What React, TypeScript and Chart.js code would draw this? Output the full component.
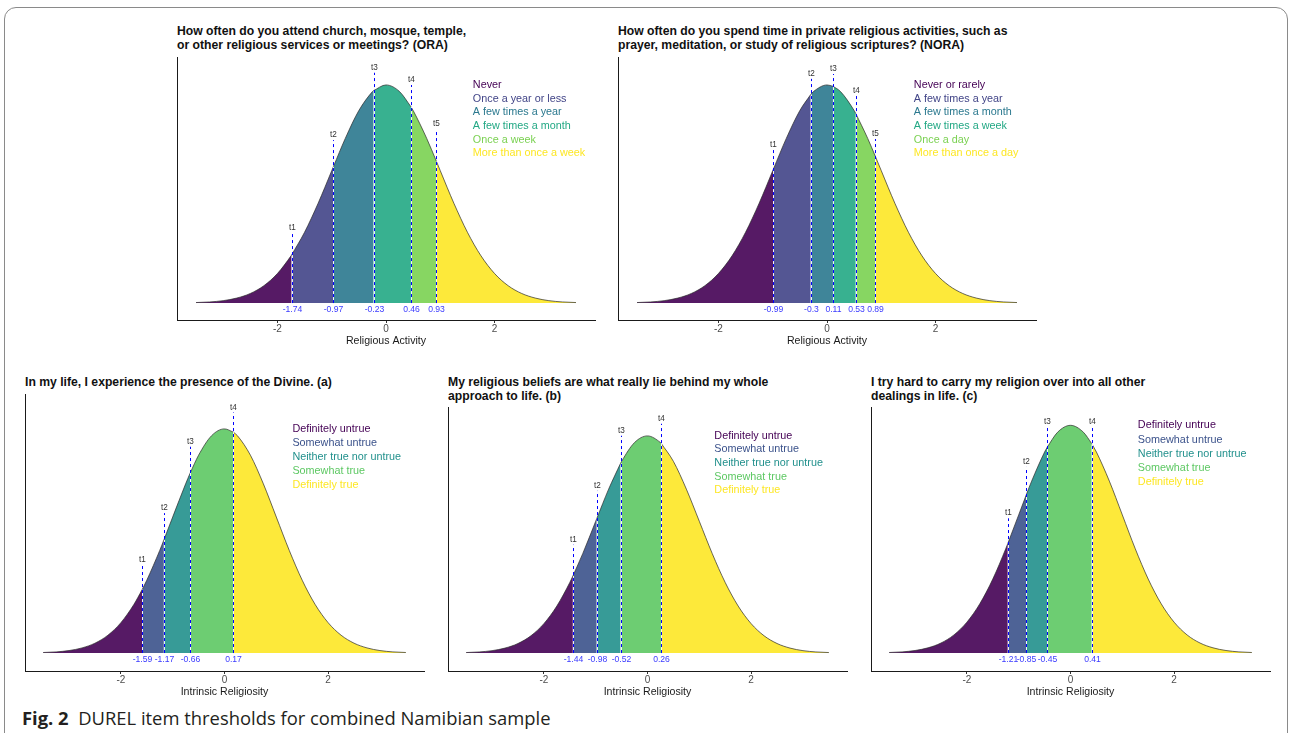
import React, { useEffect, useRef } from "react";
import { Chart, registerables } from "chart.js";

Chart.register(...registerables);

// ---------- data ----------
const curveX = [-3.5, -3.25, -3, -2.75, -2.5, -2.25, -2, -1.75, -1.5, -1.25, -1, -0.75, -0.5, -0.25, 0,
  0.25, 0.5, 0.75, 1, 1.25, 1.5, 1.75, 2, 2.25, 2.5, 2.75, 3, 3.25, 3.5];
const curveY = [0.0009, 0.002, 0.0044, 0.0091, 0.0175, 0.0317, 0.054, 0.0863, 0.1295, 0.1826, 0.242, 0.3011, 0.3521, 0.3867, 0.3989,
  0.3867, 0.3521, 0.3011, 0.242, 0.1826, 0.1295, 0.0863, 0.054, 0.0317, 0.0175, 0.0091, 0.0044, 0.002, 0.0009];

const xTicks = [-2, 0, 2];

const oraThresholds = [-1.74, -0.97, -0.23, 0.46, 0.93];
const oraDensity = [0.0878, 0.2492, 0.3885, 0.3589, 0.2589];
const oraMarkerTop = [0.128, 0.298, 0.421, 0.399, 0.318];
const oraCategories = ["Never", "Once a year or less", "A few times a year", "A few times a month", "Once a week", "More than once a week"];

const noraThresholds = [-0.99, -0.3, 0.11, 0.53, 0.89];
const noraDensity = [0.2444, 0.3814, 0.3965, 0.3467, 0.2685];
const noraMarkerTop = [0.28, 0.41, 0.419, 0.379, 0.3];
const noraCategories = ["Never or rarely", "A few times a year", "A few times a month", "A few times a week", "Once a day", "More than once a day"];

const irCategories = ["Definitely untrue", "Somewhat untrue", "Neither true nor untrue", "Somewhat true", "Definitely true"];

const irAThresholds = [-1.59, -1.17, -0.66, 0.17];
const irADensity = [0.1127, 0.2012, 0.3209, 0.3932];
const irAMarkerTop = [0.157, 0.249, 0.367, 0.428];

const irBThresholds = [-1.44, -0.98, -0.52, 0.26];
const irBDensity = [0.1415, 0.2468, 0.3485, 0.3857];
const irBMarkerTop = [0.199, 0.298, 0.399, 0.421];

const irCThresholds = [-1.21, -0.85, -0.45, 0.41];
const irCDensity = [0.1919, 0.278, 0.3605, 0.3668];
const irCMarkerTop = [0.236, 0.326, 0.396, 0.396];

const viridis6 = ["#440154", "#414487", "#2A788E", "#22A884", "#7AD151", "#FDE725"];
const viridis5 = ["#440154", "#3B528B", "#21908C", "#5DC863", "#FDE725"];

// ---------- layout / style ----------
const FONT = '"Liberation Sans", Arial, Helvetica, sans-serif';

type Panel = {
  title: string[];
  xLabel: string;
  thresholds: number[];
  density: number[];
  markerTop: number[];
  categories: string[];
  colors: string[];
  legendX: number;
  box: { L: number; T: number; R: number; B: number };
  yMin: number;
  yMax: number;
  titleTop: number;
};

const panels: Panel[] = [
  {
    title: ["How often do you attend church, mosque, temple,", "or other religious services or meetings? (ORA)"],
    xLabel: "Religious Activity",
    thresholds: oraThresholds, density: oraDensity, markerTop: oraMarkerTop,
    categories: oraCategories, colors: viridis6, legendX: 1.6,
    box: { L: 177, T: 57, R: 595, B: 320 }, yMin: -0.031, yMax: 0.45, titleTop: 24,
  },
  {
    title: ["How often do you spend time in private religious activities, such as", "prayer, meditation, or study of religious scriptures? (NORA)"],
    xLabel: "Religious Activity",
    thresholds: noraThresholds, density: noraDensity, markerTop: noraMarkerTop,
    categories: noraCategories, colors: viridis6, legendX: 1.6,
    box: { L: 618, T: 57, R: 1036, B: 320 }, yMin: -0.031, yMax: 0.45, titleTop: 24,
  },
  {
    title: ["In my life, I experience the presence of the Divine. (a)"],
    xLabel: "Intrinsic Religiosity",
    thresholds: irAThresholds, density: irADensity, markerTop: irAMarkerTop,
    categories: irCategories, colors: viridis5, legendX: 1.31,
    box: { L: 25, T: 394, R: 424, B: 671 }, yMin: -0.032, yMax: 0.461, titleTop: 375,
  },
  {
    title: ["My religious beliefs are what really lie behind my whole", "approach to life. (b)"],
    xLabel: "Intrinsic Religiosity",
    thresholds: irBThresholds, density: irBDensity, markerTop: irBMarkerTop,
    categories: irCategories, colors: viridis5, legendX: 1.29,
    box: { L: 448, T: 407, R: 847, B: 671 }, yMin: -0.033, yMax: 0.452, titleTop: 375,
  },
  {
    title: ["I try hard to carry my religion over into all other", "dealings in life. (c)"],
    xLabel: "Intrinsic Religiosity",
    thresholds: irCThresholds, density: irCDensity, markerTop: irCMarkerTop,
    categories: irCategories, colors: viridis5, legendX: 1.3,
    box: { L: 871, T: 407, R: 1270, B: 671 }, yMin: -0.0315, yMax: 0.431, titleTop: 375,
  },
];

function hexA(hex: string, a: number) {
  const n = parseInt(hex.slice(1), 16);
  return `rgba(${(n >> 16) & 255},${(n >> 8) & 255},${n & 255},${a})`;
}

function regionData(thr: number[], dens: number[]) {
  const bx = [curveX[0], ...thr, curveX[curveX.length - 1]];
  const by = [curveY[0], ...dens, curveY[curveY.length - 1]];
  const out: { x: number; y: number }[][] = [];
  for (let k = 0; k < bx.length - 1; k++) {
    const lo = bx[k], hi = bx[k + 1];
    const pts = [{ x: lo, y: by[k] }];
    curveX.forEach((x, i) => {
      if (x > lo + 1e-9 && x < hi - 1e-9) pts.push({ x, y: curveY[i] });
    });
    pts.push({ x: hi, y: by[k + 1] });
    out.push(pts);
  }
  return out;
}

function makeAnnot(p: Panel) {
  return {
    id: "annot",
    afterDatasetsDraw(chart: any) {
      const { ctx, scales } = chart;
      const xs = scales.x, ys = scales.y;
      const y0 = ys.getPixelForValue(0);
      ctx.save();
      p.thresholds.forEach((t, i) => {
        const px = Math.round(xs.getPixelForValue(t)) + 0.5;
        const yd = ys.getPixelForValue(p.density[i]);
        const yt = ys.getPixelForValue(p.markerTop[i]);
        ctx.setLineDash([]);
        ctx.strokeStyle = "rgba(255,255,255,0.9)";
        ctx.lineWidth = 1;
        ctx.beginPath();
        ctx.moveTo(px, y0);
        ctx.lineTo(px, yd);
        ctx.stroke();
        ctx.setLineDash([3, 3]);
        ctx.strokeStyle = "#0000ff";
        ctx.lineWidth = 1;
        ctx.beginPath();
        ctx.moveTo(px, y0);
        ctx.lineTo(px, yt);
        ctx.stroke();
        ctx.setLineDash([]);
        ctx.textAlign = "center";
        ctx.fillStyle = "#333333";
        ctx.font = `8.2px ${FONT}`;
        ctx.textBaseline = "bottom";
        ctx.fillText("t" + (i + 1), px, yt - 1);
        ctx.fillStyle = "#3b3bff";
        ctx.font = `8.6px ${FONT}`;
        ctx.textBaseline = "middle";
        ctx.fillText(String(t), px, y0 + 6.5);
      });
      ctx.textAlign = "left";
      ctx.textBaseline = "middle";
      ctx.font = `10.8px ${FONT}`;
      const lx = xs.getPixelForValue(p.legendX);
      p.categories.forEach((c, j) => {
        ctx.fillStyle = p.colors[j];
        ctx.fillText(c, lx, ys.getPixelForValue(0.399 - 0.025 * j));
      });
      ctx.restore();
    },
  };
}

const PAD = 10;
const XAXIS_H = 27;

function DensityPanel({ p }: { p: Panel }) {
  const ref = useRef<HTMLCanvasElement | null>(null);
  const { L, T, R, B } = p.box;
  const w = R - L + 2 * PAD;
  const h = B - T + PAD + XAXIS_H + 2;
  useEffect(() => {
    if (!ref.current) return;
    const regions = regionData(p.thresholds, p.density);
    const chart = new Chart(ref.current, {
      type: "line",
      data: {
        datasets: regions.map((pts, k) => ({
          data: pts,
          fill: "origin",
          backgroundColor: hexA(p.colors[k], 0.9),
          borderColor: "#2a2a2a",
          borderWidth: 0.7,
          pointRadius: 0,
          cubicInterpolationMode: "monotone" as const,
        })),
      },
      options: {
        animation: false,
        responsive: false,
        events: [],
        layout: { padding: { left: PAD, right: PAD, top: PAD, bottom: 2 } },
        plugins: { legend: { display: false }, tooltip: { enabled: false } },
        scales: {
          x: {
            type: "linear",
            min: -3.85,
            max: 3.85,
            afterBuildTicks: (s: any) => {
              s.ticks = xTicks.map((v) => ({ value: v }));
            },
            afterFit: (s: any) => {
              s.height = XAXIS_H;
            },
            grid: { drawOnChartArea: false, drawTicks: true, tickLength: 3, color: "#333333", lineWidth: 1 },
            border: { display: true, color: "#1a1a1a", width: 1 },
            ticks: { color: "#4d4d4d", font: { family: FONT, size: 10 }, padding: 0, maxRotation: 0, autoSkip: false },
            title: { display: true, text: p.xLabel, color: "#1a1a1a", font: { family: FONT, size: 10.6 }, padding: 0 },
          },
          y: {
            type: "linear",
            min: p.yMin,
            max: p.yMax,
            afterFit: (s: any) => {
              s.width = 0;
            },
            grid: { drawOnChartArea: false, drawTicks: false },
            ticks: { display: false },
            border: { display: true, color: "#1a1a1a", width: 1 },
          },
        },
      },
      plugins: [makeAnnot(p)],
    } as any);
    return () => chart.destroy();
  }, [p]);
  return (
    <>
      <div
        style={{
          position: "absolute",
          left: L,
          top: p.titleTop,
          font: `bold 12.2px ${FONT}`,
          lineHeight: "14px",
          color: "#111",
          whiteSpace: "nowrap",
        }}
      >
        {p.title.map((t, i) => (
          <div key={i}>{t}</div>
        ))}
      </div>
      <canvas
        ref={ref}
        width={w}
        height={h}
        style={{ position: "absolute", left: L - PAD, top: T - PAD, width: w, height: h }}
      />
    </>
  );
}

export default function App() {
  return (
    <div
      style={{
        position: "absolute",
        left: 0,
        top: 0,
        width: 1290,
        height: 733,
        overflow: "hidden",
        background: "#fff",
      }}
    >
      <div
        style={{
          position: "absolute",
          left: 4,
          top: 7,
          width: 1284,
          height: 800,
          border: "1.5px solid #8a8a8a",
          borderRadius: 12,
          boxSizing: "border-box",
        }}
      />
      {panels.map((p, i) => (
        <DensityPanel key={i} p={p} />
      ))}
      <div
        style={{
          position: "absolute",
          left: 22,
          top: 706,
          font: `18.4px "Open Sans", "Noto Sans", sans-serif`,
          lineHeight: "24px",
          color: "#231f20",
          whiteSpace: "nowrap",
        }}
      >
        <span style={{ fontWeight: 700 }}>Fig. 2</span>
        <span>{"\u00a0 DUREL item thresholds for combined Namibian sample"}</span>
      </div>
    </div>
  );
}
